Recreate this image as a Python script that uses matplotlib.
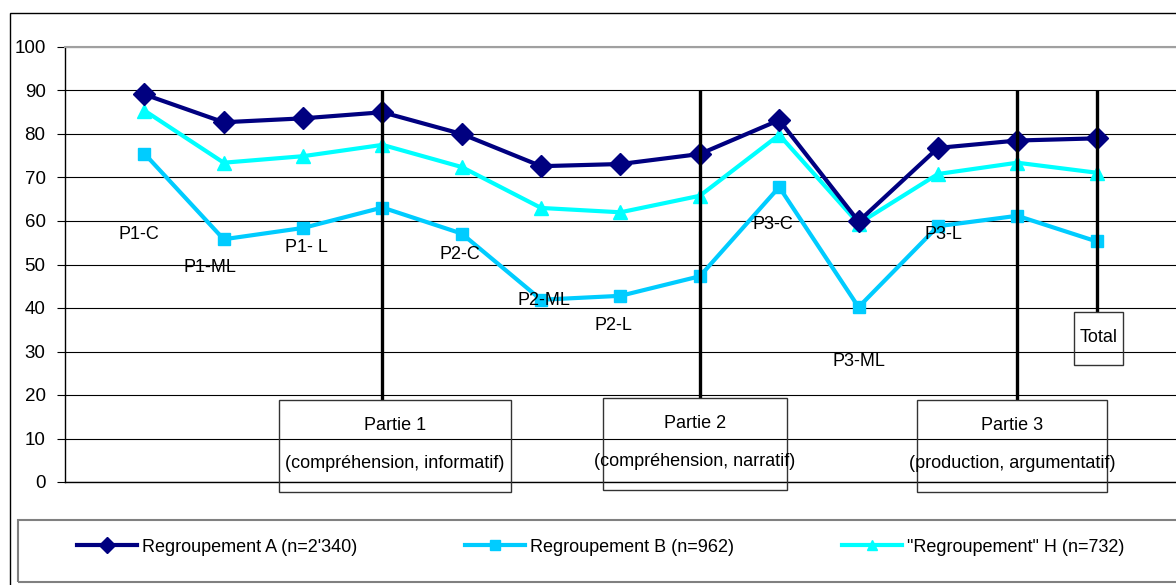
import matplotlib
matplotlib.use("Agg")
import matplotlib.pyplot as plt
from matplotlib.patches import Rectangle

plt.rcParams["font.family"] = ["Liberation Sans", "DejaVu Sans"]

# -----------------------------
# Data
# -----------------------------
labels = ["P1-C", "P1-ML", "P1- L", "", "P2-C", "P2-ML", "P2-L", "",
          "P3-C", "P3-ML", "P3-L", "", ""]
grp_a = [89.1, 82.7, 83.6, 85.0, 80.0, 72.6, 73.1, 75.4, 83.2, 59.9, 76.8, 78.5, 79.0]
grp_b = [75.5, 55.8, 58.4, 63.1, 57.1, 41.9, 42.8, 47.3, 67.8, 40.2, 58.8, 61.2, 55.3]
grp_h = [85.4, 73.4, 74.9, 77.5, 72.4, 63.0, 62.0, 65.8, 79.8, 59.4, 70.8, 73.4, 71.1]
series_names = ["Regroupement A (n=2'340)", "Regroupement B (n=962)",
                "\"Regroupement\" H (n=732)"]
partie_titles = ["Partie 1", "Partie 2", "Partie 3"]
partie_subs = ["(compréhension, informatif)", "(compréhension, narratif)",
               "(production, argumentatif)"]

x = list(range(1, len(grp_a) + 1))

# label placement (data coords)
label_pos = [(0.93, 56.9), (1.83, 49.3), (3.04, 54.0), None, (4.97, 52.2),
             (6.03, 41.8), (6.91, 35.9), None, (8.92, 59.3), (10.01, 27.8),
             (11.07, 56.8), None, None]

FS = 13

# -----------------------------
# Plot
# -----------------------------
fig = plt.figure(figsize=(11.76, 5.85), dpi=100)
ax = fig.add_axes([65 / 1176, 1 - 482 / 585, 1 - 65 / 1176, (482 - 47) / 585])

ax.set_xlim(0, 14)
ax.set_ylim(0, 100)
ax.set_yticks(range(0, 101, 10))
ax.set_xticks([])
ax.tick_params(axis="y", labelsize=13.5, length=6, width=0.8, pad=8)
ax.grid(axis="y", color="black", linewidth=0.8)
ax.set_axisbelow(True)

for s in ["left", "bottom"]:
    ax.spines[s].set_color("black")
    ax.spines[s].set_linewidth(1.0)
ax.spines["top"].set_color("#a0a0a0")
ax.spines["top"].set_linewidth(1.5)
ax.spines["right"].set_visible(False)

ax.plot(x, grp_a, color="#000080", lw=3, marker="D", ms=11, label=series_names[0], zorder=4)
ax.plot(x, grp_b, color="#00CCFF", lw=3, marker="s", ms=9, label=series_names[1], zorder=3)
ax.plot(x, grp_h, color="#00FFFF", lw=3, marker="^", ms=10, label=series_names[2], zorder=3.5)

for lab, pos in zip(labels, label_pos):
    if pos:
        ax.text(pos[0], pos[1], lab, fontsize=FS, ha="center", va="center", zorder=6)

# Partie boxes + separator lines
box_x = [(2.70, 5.62), (6.78, 9.10), (10.74, 13.13)]
box_y = [(-2.3, 18.85), (-1.84, 19.3), (-2.3, 18.85)]
sep_x = [4, 8, 12]
for i in range(3):
    x0, x1 = box_x[i]
    y0, y1 = box_y[i]
    ax.vlines(sep_x[i], y1, 90, color="black", lw=2.4, zorder=7)
    ax.add_patch(Rectangle((x0, y0), x1 - x0, y1 - y0, facecolor="none",
                           edgecolor="#333333", lw=1, clip_on=False, zorder=7))
    cx = (x0 + x1) / 2
    ax.text(cx, y1 - 5.8, partie_titles[i], fontsize=FS, ha="center", va="center", zorder=8)
    ax.text(cx, y0 + 6.6, partie_subs[i], fontsize=FS, ha="center", va="center", zorder=8)

# Total box
ax.vlines(13, 39.0, 90, color="black", lw=2.4, zorder=7)
ax.add_patch(Rectangle((12.72, 26.9), 0.61, 12.1, facecolor="none",
                       edgecolor="#333333", lw=1, clip_on=False, zorder=7))
ax.text(13.03, 33.3, "Total", fontsize=FS, ha="center", va="center", zorder=8)

# Outer frame and legend frame
fig.patches.append(Rectangle((10 / 1176, -0.01), 1.0, 1 - 13 / 585 + 0.01,
                             transform=fig.transFigure, facecolor="none",
                             edgecolor="black", lw=1))
fig.patches.append(Rectangle((18 / 1176, 1 - 582 / 585), 1.0, 62 / 585,
                             transform=fig.transFigure, facecolor="none",
                             edgecolor="#808080", lw=1.5))

fig.legend(loc="center left", bbox_to_anchor=(77 / 1176, 1 - 547 / 585),
           ncol=3, frameon=False, fontsize=FS, handlelength=3.3,
           handletextpad=0.28, columnspacing=6.0, borderpad=0, borderaxespad=0,
           markerscale=0.75)

fig.savefig("out.png", dpi=100)
